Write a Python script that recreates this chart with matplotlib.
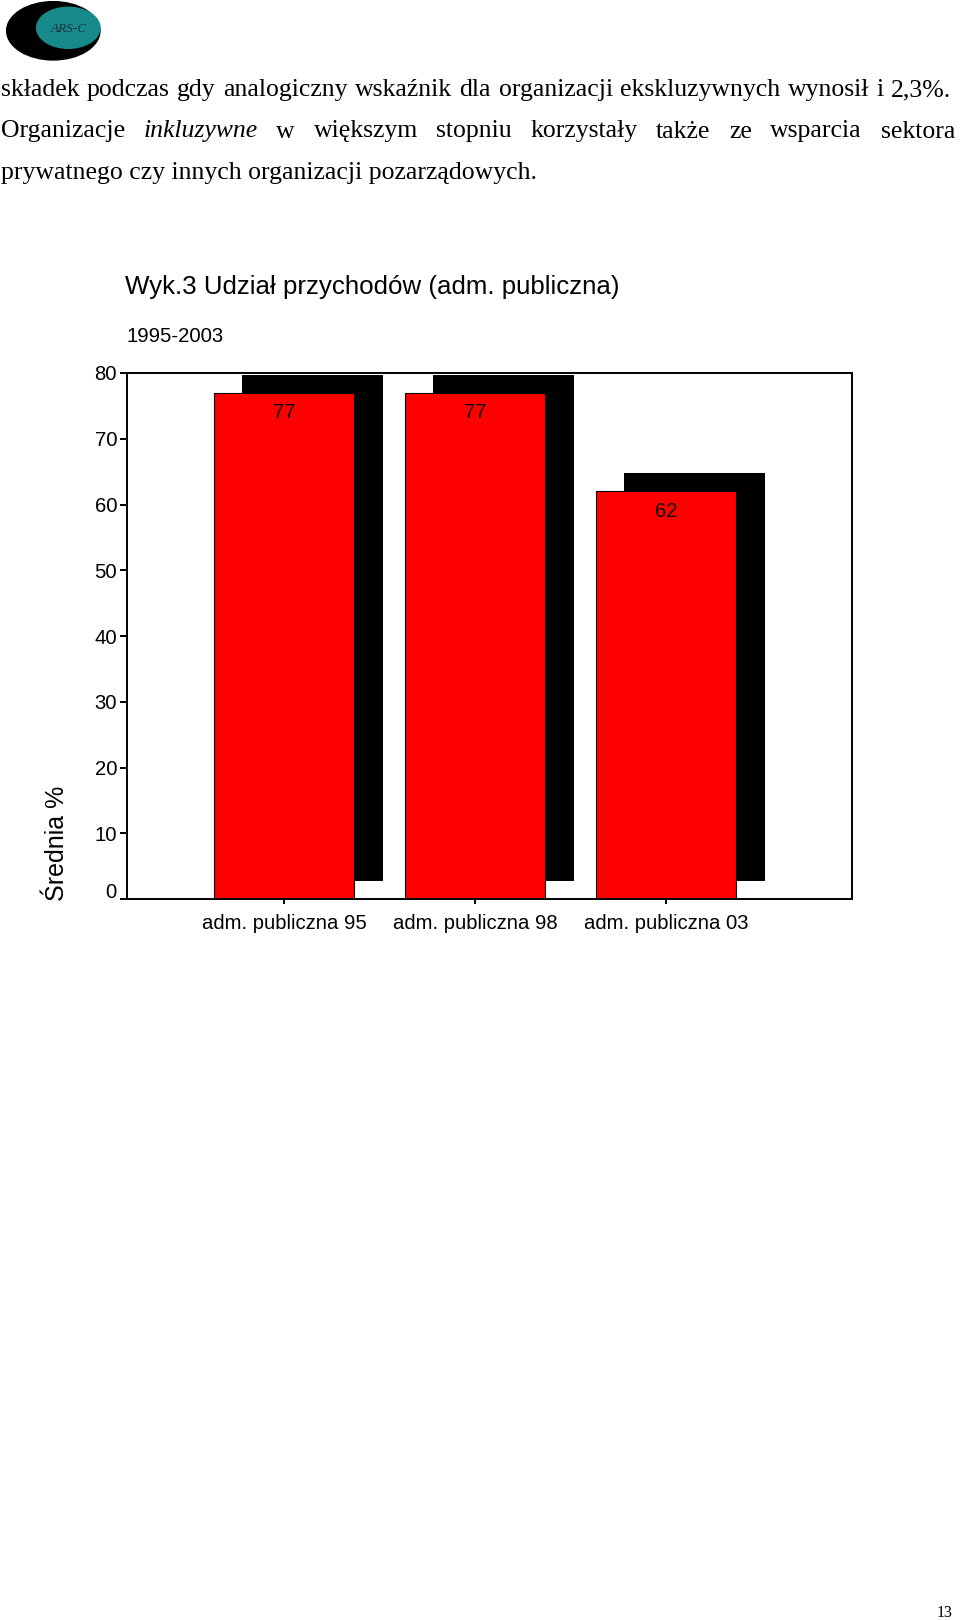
import matplotlib
matplotlib.use('Agg')
from matplotlib import pyplot as plt
from matplotlib import transforms as mtransforms
from matplotlib.patches import Ellipse
import numpy as np

# chart data
categories = ['adm. publiczna 95', 'adm. publiczna 98', 'adm. publiczna 03']
values = [77, 77, 62]
yticks = [0, 10, 20, 30, 40, 50, 60, 70, 80]

title = 'Wyk.3 Udział przychodów (adm. publiczna)'
subtitle = '1995-2003'
ylabel = 'Średnia %'

# page text around the chart
line1 = 'składek podczas gdy analogiczny wskaźnik dla organizacji ekskluzywnych wynosił i 2,3%.'
line2 = 'Organizacje inkluzywne w większym stopniu korzystały także ze wsparcia sektora'
line2_italic = ['inkluzywne']
line3 = 'prywatnego czy innych organizacji pozarządowych.'
page_no = '13'

W, H = 960, 1620
plt.rcParams['font.family'] = ['Liberation Sans', 'DejaVu Sans']

fig = plt.figure(figsize=(W / 100, H / 100), dpi=100)
renderer = fig.canvas.get_renderer()


def fx(px):
    return px / W


def fy(px):
    return 1 - px / H


def justified(words, y, x0, x1, size, italic=()):
    """Place words on one line so that they fill x0..x1 (pixels)."""
    texts = [fig.text(0, fy(y), w, fontsize=size, family='Liberation Serif',
                      style='italic' if w in italic else 'normal', va='baseline')
             for w in words]
    widths = [t.get_window_extent(renderer).width for t in texts]
    gap = (x1 - x0 - sum(widths)) / (len(words) - 1)
    x = x0
    for t, w in zip(texts, widths):
        t.set_x(fx(x))
        x += w + gap


body_size = 18.5
justified(line1.split(), 96, 1, 951, body_size)
justified(line2.split(), 137.5, 1, 955, body_size, italic=line2_italic)
fig.text(fx(1), fy(179), line3, fontsize=body_size, family='Liberation Serif', va='baseline')

# logo
fig.add_artist(Ellipse((0.533, (H - 30.8) / 100), 0.933, 0.583,
                       transform=fig.dpi_scale_trans, color='black'))
fig.add_artist(Ellipse((0.683, (H - 27.8) / 100), 0.633, 0.41,
                       transform=fig.dpi_scale_trans, color='#178b8b'))
fig.text(fx(68.5), fy(29), 'ARS-C', ha='center', va='center', fontsize=9.5,
         style='italic', family='Liberation Serif', color='#1c2f3a')

# chart
fig.text(fx(125), fy(294), title, fontsize=18.6, va='baseline')
fig.text(fx(127), fy(342), subtitle, fontsize=14.6, va='baseline')
fig.text(fx(57), fy(843), ylabel, rotation=90, ha='center', va='center', fontsize=18)

ax = fig.add_axes([fx(127), fy(899), (852 - 127) / W, (899 - 373) / H])
x = np.arange(len(categories))
shadow = mtransforms.offset_copy(ax.transData, fig=fig, x=28.5, y=18, units='dots')
ax.bar(x, values, width=0.736, color='black', transform=shadow, zorder=1)
ax.bar(x, values, width=0.736, color='#ff0000', edgecolor='black', linewidth=0.8, zorder=2)

label_tr = mtransforms.offset_copy(ax.transData, fig=fig, y=-20, units='dots')
for xi, v in zip(x, values):
    ax.text(xi, v, str(v), ha='center', va='center', fontsize=14.6,
            color='#140000', transform=label_tr, zorder=3)

ax.set_xlim(-0.822, 2.974)
ax.set_ylim(0, 80)
ax.set_xticks(x)
ax.set_xticklabels(categories)
ax.set_yticks(yticks)
ax.tick_params(axis='y', direction='out', length=4.8, width=1.4, pad=2.4, labelsize=14.6)
ax.tick_params(axis='x', direction='out', length=3.6, width=1.4, pad=7.5, labelsize=14.6)
for s in ax.spines.values():
    s.set_linewidth(1.4)

# the "0" label sits a little above its tick in the original
zero = ax.yaxis.get_major_ticks()[0].label1
zero.set_transform(zero.get_transform() +
                   mtransforms.ScaledTranslation(0, 9 / 100, fig.dpi_scale_trans))

fig.text(fx(937), fy(1617), page_no, fontsize=11.5, family='Liberation Serif', va='baseline')

fig.savefig('out.png', dpi=100)
